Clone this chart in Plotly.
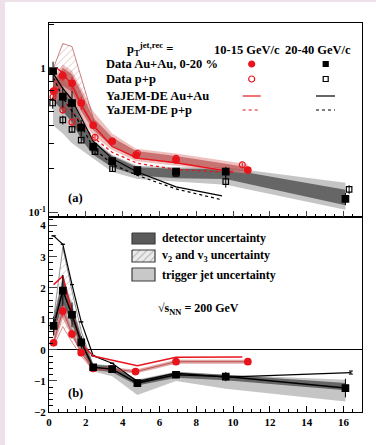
import plotly.graph_objects as go

# ---------------- data: awayside Gaussian width (panel a) ----------------
red_aa_x = [0.25, 0.75, 1.25, 1.75, 2.4, 3.43, 4.73, 6.9, 10.8]
red_aa = [0.69, 0.88, 0.78, 0.57, 0.40, 0.31, 0.249, 0.23, 0.196]
red_aa_err = [0.06, 0.07, 0.08, 0.06, 0.025, 0.012, 0.008, 0.008, 0.006]
red_pp_x = [0.22, 0.75, 1.25, 1.7, 2.5, 3.43, 4.8, 6.9, 10.5]
red_pp = [0.63, 0.51, 0.42, 0.39, 0.33, 0.31, 0.256, 0.236, 0.213]
red_pp_err = [0.04, 0.03, 0.03, 0.02, 0.015, 0.01, 0.008, 0.008, 0.007]

blk_aa_x = [0.22, 0.75, 1.25, 1.75, 2.4, 3.43, 4.8, 6.9, 9.6, 16.1]
blk_aa = [0.95, 0.63, 0.57, 0.385, 0.284, 0.226, 0.196, 0.191, 0.191, 0.124]
blk_aa_err = [0.15, 0.1, 0.12, 0.05, 0.02, 0.012, 0.01, 0.01, 0.015, 0.012]
blk_pp_x = [0.2, 0.75, 1.25, 1.75, 2.5, 3.45, 4.8, 6.9, 9.6, 16.3]
blk_pp = [0.57, 0.435, 0.375, 0.316, 0.263, 0.20, 0.191, 0.186, 0.163, 0.144]
blk_pp_err = [0.05, 0.03, 0.02, 0.015, 0.01, 0.01, 0.01, 0.01, 0.015, 0.01]

# YaJEM-DE calculations, width
yj_red_x = [0.4, 0.75, 1.25, 1.75, 2.4, 3.43, 4.8, 6.9, 10.0]
yj_red_aa = [1.0, 0.92, 0.75, 0.55, 0.40, 0.285, 0.237, 0.22, 0.19]
yj_red_pp = [0.72, 0.60, 0.50, 0.41, 0.33, 0.26, 0.218, 0.198, 0.188]
yj_blk_x = [0.25, 0.75, 1.25, 1.75, 2.4, 3.43, 4.8, 6.9, 9.4]
yj_blk_aa = [0.90, 0.72, 0.60, 0.45, 0.31, 0.235, 0.19, 0.15, 0.13]
yj_blk_pp = [0.85, 0.62, 0.50, 0.40, 0.28, 0.215, 0.18, 0.145, 0.122]

# systematic bands, width
blk_det_lo = [0.60, 0.50, 0.42, 0.32, 0.25, 0.205, 0.18, 0.172, 0.17, 0.112]
blk_det_hi = [0.95, 0.72, 0.62, 0.43, 0.31, 0.245, 0.205, 0.20, 0.20, 0.143]
blk_trg_lo = [0.40, 0.35, 0.30, 0.27, 0.235, 0.19, 0.17, 0.163, 0.155, 0.104]
blk_trg_hi = [1.00, 0.85, 0.72, 0.48, 0.32, 0.25, 0.21, 0.205, 0.205, 0.16]
red_det_lo = [0.60, 0.75, 0.68, 0.50, 0.37, 0.285, 0.235, 0.218, 0.19]
red_det_hi = [0.80, 1.00, 0.90, 0.68, 0.45, 0.33, 0.265, 0.245, 0.205]
red_trg_lo = [0.55, 0.65, 0.60, 0.45, 0.34, 0.27, 0.225, 0.21, 0.185]
red_trg_hi = [0.85, 1.05, 0.95, 0.72, 0.50, 0.35, 0.275, 0.255, 0.215]
v23_x = [0.25, 0.75, 1.25, 1.75, 2.4]
red_v23_lo = [0.72, 0.88, 0.78, 0.57, 0.40]
red_v23_hi = [1.00, 1.47, 1.40, 0.85, 0.45]

# ---------------- data: awayside D_AA (panel b) ----------------
red_daa_x = [0.25, 0.75, 1.25, 1.75, 2.4, 3.43, 4.7, 6.9, 10.8]
red_daa = [0.23, 1.25, 0.51, -0.09, -0.60, -0.62, -0.70, -0.38, -0.38]
red_daa_err = [0.1, 0.2, 0.15, 0.08, 0.05, 0.05, 0.05, 0.04, 0.04]
blk_daa_x = [0.25, 0.75, 1.25, 1.75, 2.4, 3.43, 4.8, 6.9, 9.6, 16.1]
blk_daa = [0.77, 1.91, 1.13, 0.24, -0.56, -0.62, -1.07, -0.80, -0.86, -1.23]
blk_daa_err = [0.3, 0.5, 0.4, 0.2, 0.08, 0.1, 0.12, 0.12, 0.15, 0.3]

yj_red_daa_x = [0.25, 0.75, 1.25, 1.75, 2.4, 3.43, 4.8, 6.9, 10.5]
yj_red_daa = [2.1, 2.37, 1.2, 0.2, -0.2, -0.33, -0.51, -0.24, -0.23]
yj_blk_daa_x = [0.25, 0.75, 1.25, 1.75, 2.4, 3.43, 4.8, 6.9, 9.6, 16.4]
yj_blk_daa = [3.67, 3.4, 2.1, 0.9, -0.19, -0.43, -1.02, -0.75, -0.88, -0.73]
yj_blk_daa_err = [0, 0, 0, 0, 0, 0, 0, 0, 0, 0.05]

blk_det_b_lo = [0.50, 1.50, 0.85, 0.05, -0.65, -0.72, -1.15, -0.90, -0.98, -1.30]
blk_det_b_hi = [1.00, 2.30, 1.40, 0.45, -0.48, -0.52, -0.98, -0.72, -0.80, -1.07]
blk_trg_b_lo = [0.30, 1.20, 0.60, -0.05, -0.70, -0.85, -1.45, -1.00, -1.25, -1.66]
blk_trg_b_hi = [1.10, 2.40, 1.50, 0.50, -0.45, -0.50, -0.95, -0.70, -0.80, -0.96]
red_det_b_lo = [0.10, 1.00, 0.40, -0.15, -0.66, -0.68, -0.76, -0.45, -0.45]
red_det_b_hi = [0.35, 1.50, 0.65, 0.00, -0.55, -0.56, -0.64, -0.32, -0.32]
blk_v23_b_lo = [0.60, 1.60, 0.95, 0.15, -0.60]
blk_v23_b_hi = [1.00, 3.30, 1.90, 0.60, -0.50]
red_v23_b_lo = [0.10, 0.75, 0.25, -0.20, -0.65]
red_v23_b_hi = [0.45, 2.00, 1.10, 0.15, -0.55]

# bin edges marked along the top of each panel
bin_edges = [0.5, 1, 1.5, 2, 3, 4, 6, 8, 12]

RED = "#e8141c"
SERIF = "Liberation Serif"

fig = go.Figure()


def band(x, lo, hi, color, xa, ya, line=None, pattern=None):
    xs = list(x) + list(x)[::-1]
    ys = list(hi) + list(lo)[::-1]
    kw = dict(x=xs, y=ys, fill="toself", fillcolor=color, mode="lines",
              line=dict(width=0 if line is None else 0.8,
                        color=line or "rgba(0,0,0,0)"),
              xaxis=xa, yaxis=ya, hoverinfo="skip", showlegend=False)
    if pattern is not None:
        kw["fillpattern"] = pattern
    fig.add_trace(go.Scatter(**kw))


def curve(x, y, color, dash, width, xa, ya, err=None):
    kw = dict(x=x, y=y, mode="lines", line=dict(color=color, dash=dash, width=width),
              xaxis=xa, yaxis=ya, showlegend=False, hoverinfo="skip")
    if err is not None:
        kw["error_y"] = dict(type="data", array=err, color=color, width=2, thickness=1)
    fig.add_trace(go.Scatter(**kw))


def points(x, y, err, color, symbol, size, xa, ya):
    fig.add_trace(go.Scatter(
        x=x, y=y, mode="markers", xaxis=xa, yaxis=ya, showlegend=False,
        marker=dict(color=color, symbol=symbol, size=size,
                    line=dict(color=color, width=1.2)),
        error_y=dict(type="data", array=err, color=color, thickness=1, width=0)))


# ---- panel (a): width ----
band(blk_aa_x, blk_trg_lo, blk_trg_hi, "rgba(150,150,150,0.55)", "x2", "y")
band(blk_aa_x, blk_det_lo, blk_det_hi, "rgba(70,70,70,0.75)", "x2", "y")
band(red_aa_x, red_trg_lo, red_trg_hi, "rgba(225,140,140,0.55)", "x2", "y")
band(red_aa_x, red_det_lo, red_det_hi, "rgba(170,50,50,0.55)", "x2", "y")
band(v23_x, red_v23_lo, red_v23_hi, "rgba(255,255,255,0)", "x2", "y",
     line="rgba(170,60,60,0.8)",
     pattern=dict(shape="/", fgcolor="rgba(170,60,60,0.8)", size=5, solidity=0.15))

curve(yj_red_x, yj_red_aa, RED, "solid", 1.4, "x2", "y")
curve(yj_red_x, yj_red_pp, RED, "dot", 1.3, "x2", "y")
curve(yj_blk_x, yj_blk_aa, "black", "solid", 1.2, "x2", "y")
curve(yj_blk_x, yj_blk_pp, "black", "dot", 1.2, "x2", "y")

points(red_pp_x, red_pp, red_pp_err, RED, "circle-open", 6, "x2", "y")
points(blk_pp_x, blk_pp, blk_pp_err, "black", "square-open", 5.5, "x2", "y")
points(red_aa_x, red_aa, red_aa_err, RED, "circle", 6.5, "x2", "y")
points(blk_aa_x, blk_aa, blk_aa_err, "black", "square", 6.5, "x2", "y")

# ---- panel (b): D_AA ----
band(blk_daa_x, blk_trg_b_lo, blk_trg_b_hi, "rgba(150,150,150,0.55)", "x", "y2")
band(blk_daa_x, blk_det_b_lo, blk_det_b_hi, "rgba(70,70,70,0.75)", "x", "y2")
band(red_daa_x, red_det_b_lo, red_det_b_hi, "rgba(190,80,80,0.5)", "x", "y2")
band(v23_x, blk_v23_b_lo, blk_v23_b_hi, "rgba(255,255,255,0)", "x", "y2",
     line="rgba(90,90,90,0.8)",
     pattern=dict(shape="/", fgcolor="rgba(90,90,90,0.8)", size=5, solidity=0.15))
band(v23_x, red_v23_b_lo, red_v23_b_hi, "rgba(255,255,255,0)", "x", "y2",
     line="rgba(200,80,80,0.8)",
     pattern=dict(shape="/", fgcolor="rgba(210,90,90,0.8)", size=5, solidity=0.15))

curve(yj_blk_daa_x, yj_blk_daa, "black", "solid", 1.2, "x", "y2", err=yj_blk_daa_err)
curve(yj_red_daa_x, yj_red_daa, RED, "solid", 1.5, "x", "y2")
curve(red_daa_x, red_daa, "rgba(190,60,60,0.8)", "solid", 1, "x", "y2")
curve(blk_daa_x, blk_daa, "black", "solid", 1.5, "x", "y2")

points(red_daa_x, red_daa, red_daa_err, RED, "circle", 6.5, "x", "y2")
points(blk_daa_x, blk_daa, blk_daa_err, "black", "square", 6.5, "x", "y2")

# ---- key graphics drawn in a pixel-space overlay (x5/y5) ----
key_boxes = [("rgb(90,90,90)", None, 233, 244),
             ("rgb(235,235,235)", "/", 250, 262),
             ("rgb(200,200,200)", None, 268, 281)]
for fillc, pat, y0, y1 in key_boxes:
    kw = dict(x=[132, 155, 155, 132, 132], y=[y0, y0, y1, y1, y0], mode="lines",
              fill="toself", fillcolor=fillc, line=dict(color="rgb(60,60,60)", width=1.2),
              xaxis="x5", yaxis="y5", showlegend=False, hoverinfo="skip")
    if pat:
        kw["fillpattern"] = dict(shape=pat, fgcolor="rgb(110,110,110)", size=5,
                                 solidity=0.2, bgcolor=fillc)
    fig.add_trace(go.Scatter(**kw))

key_marks = [(251.7, 64, RED, "circle", 6), (325.7, 64, "black", "square", 5),
             (251.7, 79, RED, "circle-open", 6), (325.7, 79, "black", "square-open", 5)]
for kx, ky, kc, ks, sz in key_marks:
    fig.add_trace(go.Scatter(x=[kx], y=[ky], mode="markers", xaxis="x5", yaxis="y5",
                             marker=dict(color=kc, symbol=ks, size=sz,
                                         line=dict(color=kc, width=1.2)),
                             showlegend=False, hoverinfo="skip"))
key_lines = [(242.7, 260.7, 96, RED, "solid"), (316, 335, 96, "black", "solid"),
             (242.7, 260.7, 110, RED, "dot"), (316, 335, 110, "black", "dot")]
for x0, x1, ky, kc, kd in key_lines:
    fig.add_trace(go.Scatter(x=[x0, x1], y=[ky, ky], mode="lines", xaxis="x5", yaxis="y5",
                             line=dict(color=kc, dash=kd, width=1.2),
                             showlegend=False, hoverinfo="skip"))

# ---- texts ----
def txt(x, y, s, size=12.5, xanchor="left", angle=0, color="black"):
    fig.add_annotation(x=x, y=y, xref="x5", yref="y5", text=s, showarrow=False,
                       xanchor=xanchor, yanchor="middle", textangle=angle,
                       font=dict(family=SERIF, size=size, color=color))

txt(150, 49, "<b>p<sub>T</sub><sup>jet,rec</sup> =</b>", xanchor="center")
txt(247, 50, "<b>10-15 GeV/c</b>", xanchor="center")
txt(318, 50, "<b>20-40 GeV/c</b>", xanchor="center")
txt(104, 64, "<b>Data Au+Au, 0-20 %</b>")
txt(104, 79, "<b>Data p+p</b>")
txt(104, 96, "<b>YaJEM-DE Au+Au</b>")
txt(104, 110, "<b>YaJEM-DE p+p</b>")
txt(66, 198, "<b>(a)</b>")
txt(66, 393, "<b>(b)</b>")
txt(160, 238, "<b>detector uncertainty</b>", size=12)
txt(160, 256, "<b>v<sub>2</sub> and v<sub>3</sub> uncertainty</b>", size=12)
txt(160, 275, "<b>trigger jet uncertainty</b>", size=12)
txt(156, 309, "<b>√s<sub>NN</sub> = 200 GeV</b>", size=12)
txt(33, 123, "<b>Awayside Gaussian Width σ<sub>AS</sub></b>", size=12.5,
    xanchor="center", angle=-90)
txt(32, 316, "<b>Awayside D<sub>AA</sub>  (GeV/c)</b>", size=12.5,
    xanchor="center", angle=-90)
fig.add_annotation(x=203, y=429, xref="x5", yref="y5", showarrow=False,
                   text="<b>p<sub>T</sub><sup>assoc</sup> (GeV/c)</b>",
                   font=dict(family=SERIF, size=13, color="black"),
                   xanchor="center", yanchor="middle")

# ---- axes ----
TICKFONT = dict(family=SERIF, size=11, color="black", weight="bold")
axis_common = dict(showline=True, linecolor="black", linewidth=1, mirror=True,
                   showgrid=False, zeroline=False, ticks="inside", tickfont=TICKFONT)
fig.update_layout(
    width=376, height=445,
    margin=dict(l=49, r=14, t=23, b=33),
    paper_bgcolor="white", plot_bgcolor="rgba(0,0,0,0)",
    showlegend=False,
    xaxis=dict(**axis_common, range=[0, 17], anchor="y2", tickvals=list(range(0, 17, 2)),
               ticklen=6, tickcolor="black",
               minor=dict(dtick=0.5, ticklen=3, ticks="inside", tickcolor="black")),
    xaxis2=dict(**axis_common, range=[0, 17], anchor="y", matches="x",
                tickvals=list(range(0, 17, 2)), showticklabels=False, ticklen=6,
                minor=dict(dtick=0.5, ticklen=3, ticks="inside", tickcolor="black")),
    xaxis3=dict(overlaying="x2", anchor="y", side="top", range=[0, 17],
                tickvals=bin_edges, ticks="inside", ticklen=4, tickcolor="blue",
                showticklabels=False, showline=False, showgrid=False, zeroline=False),
    xaxis4=dict(overlaying="x", anchor="y2", side="top", range=[0, 17],
                tickvals=bin_edges, ticks="inside", ticklen=4, tickcolor="blue",
                showticklabels=False, showline=False, showgrid=False, zeroline=False),
    yaxis=dict(**axis_common, type="log", domain=[0.5015, 1], anchor="x2",
               range=[-1.032, 0.309], tickvals=[0.1, 1],
               ticktext=["10<sup>-1</sup>", "1"], ticklen=9,
               minor=dict(tickvals=[0.2, 0.3, 0.4, 0.5, 0.6, 0.7, 0.8, 0.9, 2],
                          ticklen=5, ticks="inside", tickcolor="black")),
    yaxis2=dict(showline=True, linecolor="black", linewidth=1, mirror=True,
                showgrid=False, ticks="inside", tickfont=TICKFONT,
                domain=[0, 0.5015], anchor="x", range=[-2, 4.28], dtick=1, ticklen=8,
                zeroline=True, zerolinecolor="black", zerolinewidth=1,
                minor=dict(dtick=0.2, ticklen=4, ticks="inside", tickcolor="black")),
    xaxis5=dict(domain=[0, 1], range=[49, 362], anchor="y5", visible=False),
    yaxis5=dict(domain=[0, 1], range=[412, 23], anchor="x5", visible=False),
)

# tinted strips along the left and top page edges
PINK = "rgb(238,224,232)"
fig.add_shape(type="rect", xref="paper", yref="paper", layer="below",
              x0=(0 - 49) / 313, x1=(5 - 49) / 313, y0=(412 - 445) / 389,
              y1=(412 - 0) / 389, fillcolor=PINK, line=dict(width=0))
fig.add_shape(type="rect", xref="paper", yref="paper", layer="below",
              x0=(0 - 49) / 313, x1=(376 - 49) / 313, y0=(412 - 2) / 389,
              y1=(412 - 0) / 389, fillcolor=PINK, line=dict(width=0))

fig.write_html("out.html")
